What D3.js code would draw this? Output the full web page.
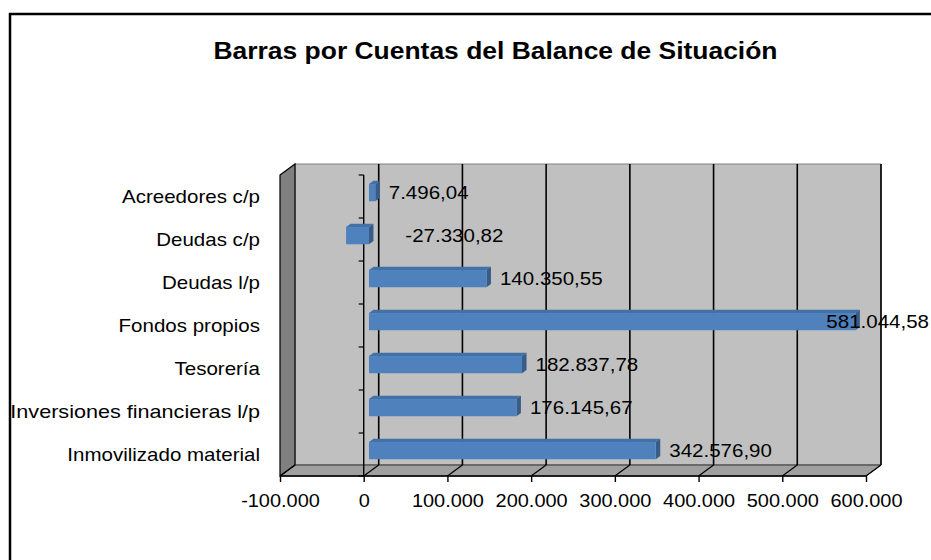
<!DOCTYPE html>
<html>
<head>
<meta charset="utf-8">
<script src="https://cdn.jsdelivr.net/npm/d3@7"></script>
<style>
  html, body { margin: 0; padding: 0; background: #fff; }
  svg { display: block; }
  text { font-family: "Liberation Sans", Arial, sans-serif; fill: #000; }
</style>
</head>
<body>
<svg id="chart" width="931" height="560"></svg>
<script>
// ---- data ----
const title = "Barras por Cuentas del Balance de Situación";
const categories = [
  "Acreedores c/p",
  "Deudas c/p",
  "Deudas l/p",
  "Fondos propios",
  "Tesorería",
  "Inversiones financieras l/p",
  "Inmovilizado material"
];
const values = [7496.04, -27330.82, 140350.55, 581044.58, 182837.78, 176145.67, 342576.90];
const xTicks = [-100000, 0, 100000, 200000, 300000, 400000, 500000, 600000];
const xDomain = [-100000, 600000];

// ---- layout ----
const W = 931, H = 560;
const SX = 1.14;               // horizontal text stretch of the original rendering
const front = { left: 280, right: 866, top: 175, bottom: 476 };
const D = [15, -11];           // depth vector (front -> back)
const barDepth = [0.35, 0.65]; // bar position within depth
const colors = {
  wall: "#c0c0c0", side: "#808080", floor: "#a0a0a0",
  barFront: "#4f81bd", barTop: "#4271a8", barSide: "#375c8a"
};

const locale = d3.formatLocale({ decimal: ",", thousands: ".", grouping: [3], currency: ["", "€"], minus: "-" });
const fmtTick = locale.format(",.0f");
const fmtVal = locale.format(",.2f");

const svg = d3.select("#chart");

const x = d3.scaleLinear().domain(xDomain).range([front.left, front.right]);
const y = d3.scaleBand().domain(categories).range([front.top, front.bottom]).paddingInner(0).paddingOuter(0);
const barH = y.bandwidth() / 2.5;

const P = (px, py, f) => [px + D[0] * f, py + D[1] * f];
const poly = pts => pts.map(p => p.join(",")).join(" ");

function stretchedText(g, px, py, str, anchor, size, weight, sx) {
  return g.append("text")
    .attr("transform", `translate(${px},${py}) scale(${sx || SX},1)`)
    .attr("text-anchor", anchor)
    .style("font-size", size + "px")
    .style("font-weight", weight || "normal")
    .text(str);
}

// frame
svg.append("rect").attr("x", 10).attr("y", 14).attr("width", W + 20).attr("height", H + 20)
  .attr("fill", "#fff").attr("stroke", "#000").attr("stroke-width", 2.5);

// title
stretchedText(svg, 495.5, 59, title, "middle", 23.2, "bold");

// back wall
const bw = [P(front.left, front.top, 1), P(front.right, front.top, 1), P(front.right, front.bottom, 1), P(front.left, front.bottom, 1)];
svg.append("polygon").attr("points", poly(bw)).attr("fill", colors.wall).attr("stroke", "#808080").attr("stroke-width", 1);

// floor
const fl = [[front.left, front.bottom], [front.right, front.bottom], P(front.right, front.bottom, 1), P(front.left, front.bottom, 1)];
svg.append("polygon").attr("points", poly(fl)).attr("fill", colors.floor).attr("stroke", "#333").attr("stroke-width", 1);

// left side wall
const lw = [[front.left, front.top], P(front.left, front.top, 1), P(front.left, front.bottom, 1), [front.left, front.bottom]];
svg.append("polygon").attr("points", poly(lw)).attr("fill", colors.side).attr("stroke", "#000").attr("stroke-width", 1.2);

// gridlines on back wall and floor
const grid = svg.append("g");
xTicks.forEach(v => {
  const xb = x(v) + D[0];
  if (v !== xDomain[0]) {
    grid.append("line").attr("x1", xb).attr("x2", xb)
      .attr("y1", front.top + D[1]).attr("y2", front.bottom + D[1])
      .attr("stroke", "#000").attr("stroke-width", 1.6);
  }
  grid.append("line").attr("x1", x(v)).attr("y1", front.bottom)
    .attr("x2", xb).attr("y2", front.bottom + D[1])
    .attr("stroke", "#000").attr("stroke-width", 1.2);
});
// floor front edge
svg.append("line").attr("x1", front.left).attr("x2", front.right)
  .attr("y1", front.bottom).attr("y2", front.bottom).attr("stroke", "#000").attr("stroke-width", 1.5);

// category axis (at value 0)
const cat = svg.append("g");
cat.append("line").attr("x1", x(0)).attr("x2", x(0)).attr("y1", front.top).attr("y2", front.bottom)
  .attr("stroke", "#000").attr("stroke-width", 1.4);
d3.range(categories.length + 1).forEach(i => {
  const yy = front.top + i * y.step();
  cat.append("line").attr("x1", x(0) - 5).attr("x2", x(0)).attr("y1", yy).attr("y2", yy)
    .attr("stroke", "#000").attr("stroke-width", 1.2);
});
categories.forEach(c => {
  const sx = c.length > 22 ? 1.2 : SX;
  stretchedText(cat, 260, y(c) + y.bandwidth() / 2 + 6.3, c, "end", 18, "normal", sx);
});

// x axis
const xAxis = d3.axisBottom(x).tickValues(xTicks).tickSize(6).tickSizeOuter(0).tickFormat(fmtTick);
const gx = svg.append("g").attr("transform", `translate(0,${front.bottom})`).call(xAxis);
gx.select(".domain").remove();
gx.selectAll(".tick line").attr("stroke", "#000").attr("stroke-width", 1.4);
gx.selectAll(".tick text")
  .attr("y", 31).attr("dy", 0)
  .attr("transform", `scale(${SX},1)`)
  .style("font-size", "17.5px")
  .style("font-family", "'Liberation Sans', Arial, sans-serif")
  .attr("fill", "#000");

// bars
const bars = svg.append("g");
const data = categories.map((c, i) => ({ c, v: values[i] }));
data.forEach(d => {
  const yc = y(d.c) + y.bandwidth() / 2;
  const y0 = yc - barH / 2, y1 = yc + barH / 2;
  const xa = x(Math.min(0, d.v)), xb = x(Math.max(0, d.v));
  const f0 = barDepth[0], f1 = barDepth[1];
  // top face
  bars.append("polygon").attr("points", poly([P(xa, y0, f0), P(xb, y0, f0), P(xb, y0, f1), P(xa, y0, f1)]))
    .attr("fill", colors.barTop);
  // right side face
  bars.append("polygon").attr("points", poly([P(xb, y0, f0), P(xb, y0, f1), P(xb, y1, f1), P(xb, y1, f0)]))
    .attr("fill", colors.barSide);
  // front face
  const p0 = P(xa, y0, f0);
  bars.append("rect").attr("x", p0[0]).attr("y", p0[1]).attr("width", xb - xa).attr("height", barH)
    .attr("fill", colors.barFront);
});

// value labels
const labels = svg.append("g");
const chartRight = 929;
data.forEach(d => {
  const yc = y(d.c) + y.bandwidth() / 2 + D[1] * barDepth[0];
  const t = stretchedText(labels, 0, 0, fmtVal(d.v), "start", 18);
  const w = t.node().getComputedTextLength() * SX;
  const xl = Math.min(x(Math.abs(d.v)) + D[0] * barDepth[0] + 13.5, chartRight - w);
  t.attr("transform", `translate(${xl},${yc + 6.3}) scale(${SX},1)`);
});
</script>
</body>
</html>
